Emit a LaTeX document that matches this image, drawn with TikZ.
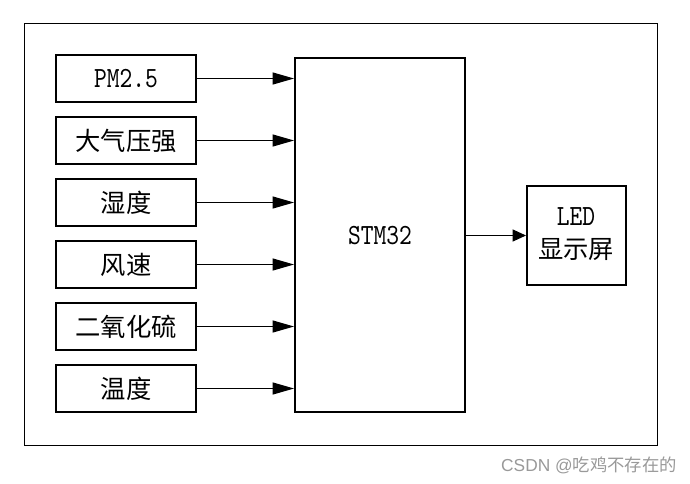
\documentclass[tikz,border=0pt]{standalone}
\usepackage{fontspec}
\usetikzlibrary{arrows.meta}
\newfontfamily\cjk{Noto Sans CJK SC}
\newfontfamily\lat[FakeStretch=0.83]{lmmono10-regular.otf}
\newfontfamily\wmlat{Liberation Sans}
\tikzset{
  blk/.style={draw, line width=1.5pt, inner sep=0pt, anchor=north west},
  lbl/.style={font=\cjk\fontsize{19pt}{21pt}\selectfont},
  latl/.style={font=\lat\fontsize{22pt}{24pt}\selectfont},
  arr/.style={line width=0.8pt, -{Triangle[length=16pt,width=9pt]}},
  arrb/.style={line width=0.8pt, -{Triangle[length=10pt,width=9pt]}}
}
\begin{document}
\begin{tikzpicture}[x=0.75pt,y=-0.75pt]
\useasboundingbox (0,0) rectangle (690,483);
\node[draw, line width=1.1pt, minimum width=633*0.75pt, minimum height=422*0.75pt, anchor=north west, inner sep=0pt] (frame) at (24,23) {};
\node[blk, minimum width=140*0.75pt, minimum height=47*0.75pt] (s1) at (55,54) {};
\node[blk, minimum width=140*0.75pt, minimum height=47*0.75pt] (s2) at (55,116) {};
\node[blk, minimum width=140*0.75pt, minimum height=47*0.75pt] (s3) at (55,178) {};
\node[blk, minimum width=140*0.75pt, minimum height=47*0.75pt] (s4) at (55,240) {};
\node[blk, minimum width=140*0.75pt, minimum height=47*0.75pt] (s5) at (55,302) {};
\node[blk, minimum width=140*0.75pt, minimum height=47*0.75pt] (s6) at (55,364) {};
\node[latl] (t1) at (s1.center) {PM2.5};
\node[lbl] (t2) at (s2.center) {大气压强};
\node[lbl] (t3) at (s3.center) {湿度};
\node[lbl] (t4) at (s4.center) {风速};
\node[lbl] (t5) at (s5.center) {二氧化硫};
\node[lbl] (t6) at (s6.center) {温度};
\node[blk, minimum width=170*0.75pt, minimum height=354*0.75pt] (mcu) at (294,57) {};
\node[latl] (mcut) at ([yshift=-0.75pt]mcu.center) {STM32};
\node[blk, minimum width=99*0.75pt, minimum height=99*0.75pt] (led) at (526,185) {};
\node[latl, inner sep=0pt] (ledt1) at (576,217) {LED};
\node[lbl, inner sep=0pt] (ledt2) at (576,250) {显示屏};
\foreach \i in {1,...,6} {
  \draw[arr] (s\i.east) -- (s\i.east -| mcu.west);
}
\draw[arrb] (mcu.east |- led.west) -- (led.west);
\node[anchor=east, text=black!40, inner sep=0pt] (wm) at (677,465) {{\wmlat\fontsize{13pt}{15pt}\selectfont CSDN @}{\cjk\fontsize{13pt}{15pt}\selectfont 吃鸡不存在的}};
\end{tikzpicture}
\end{document}
